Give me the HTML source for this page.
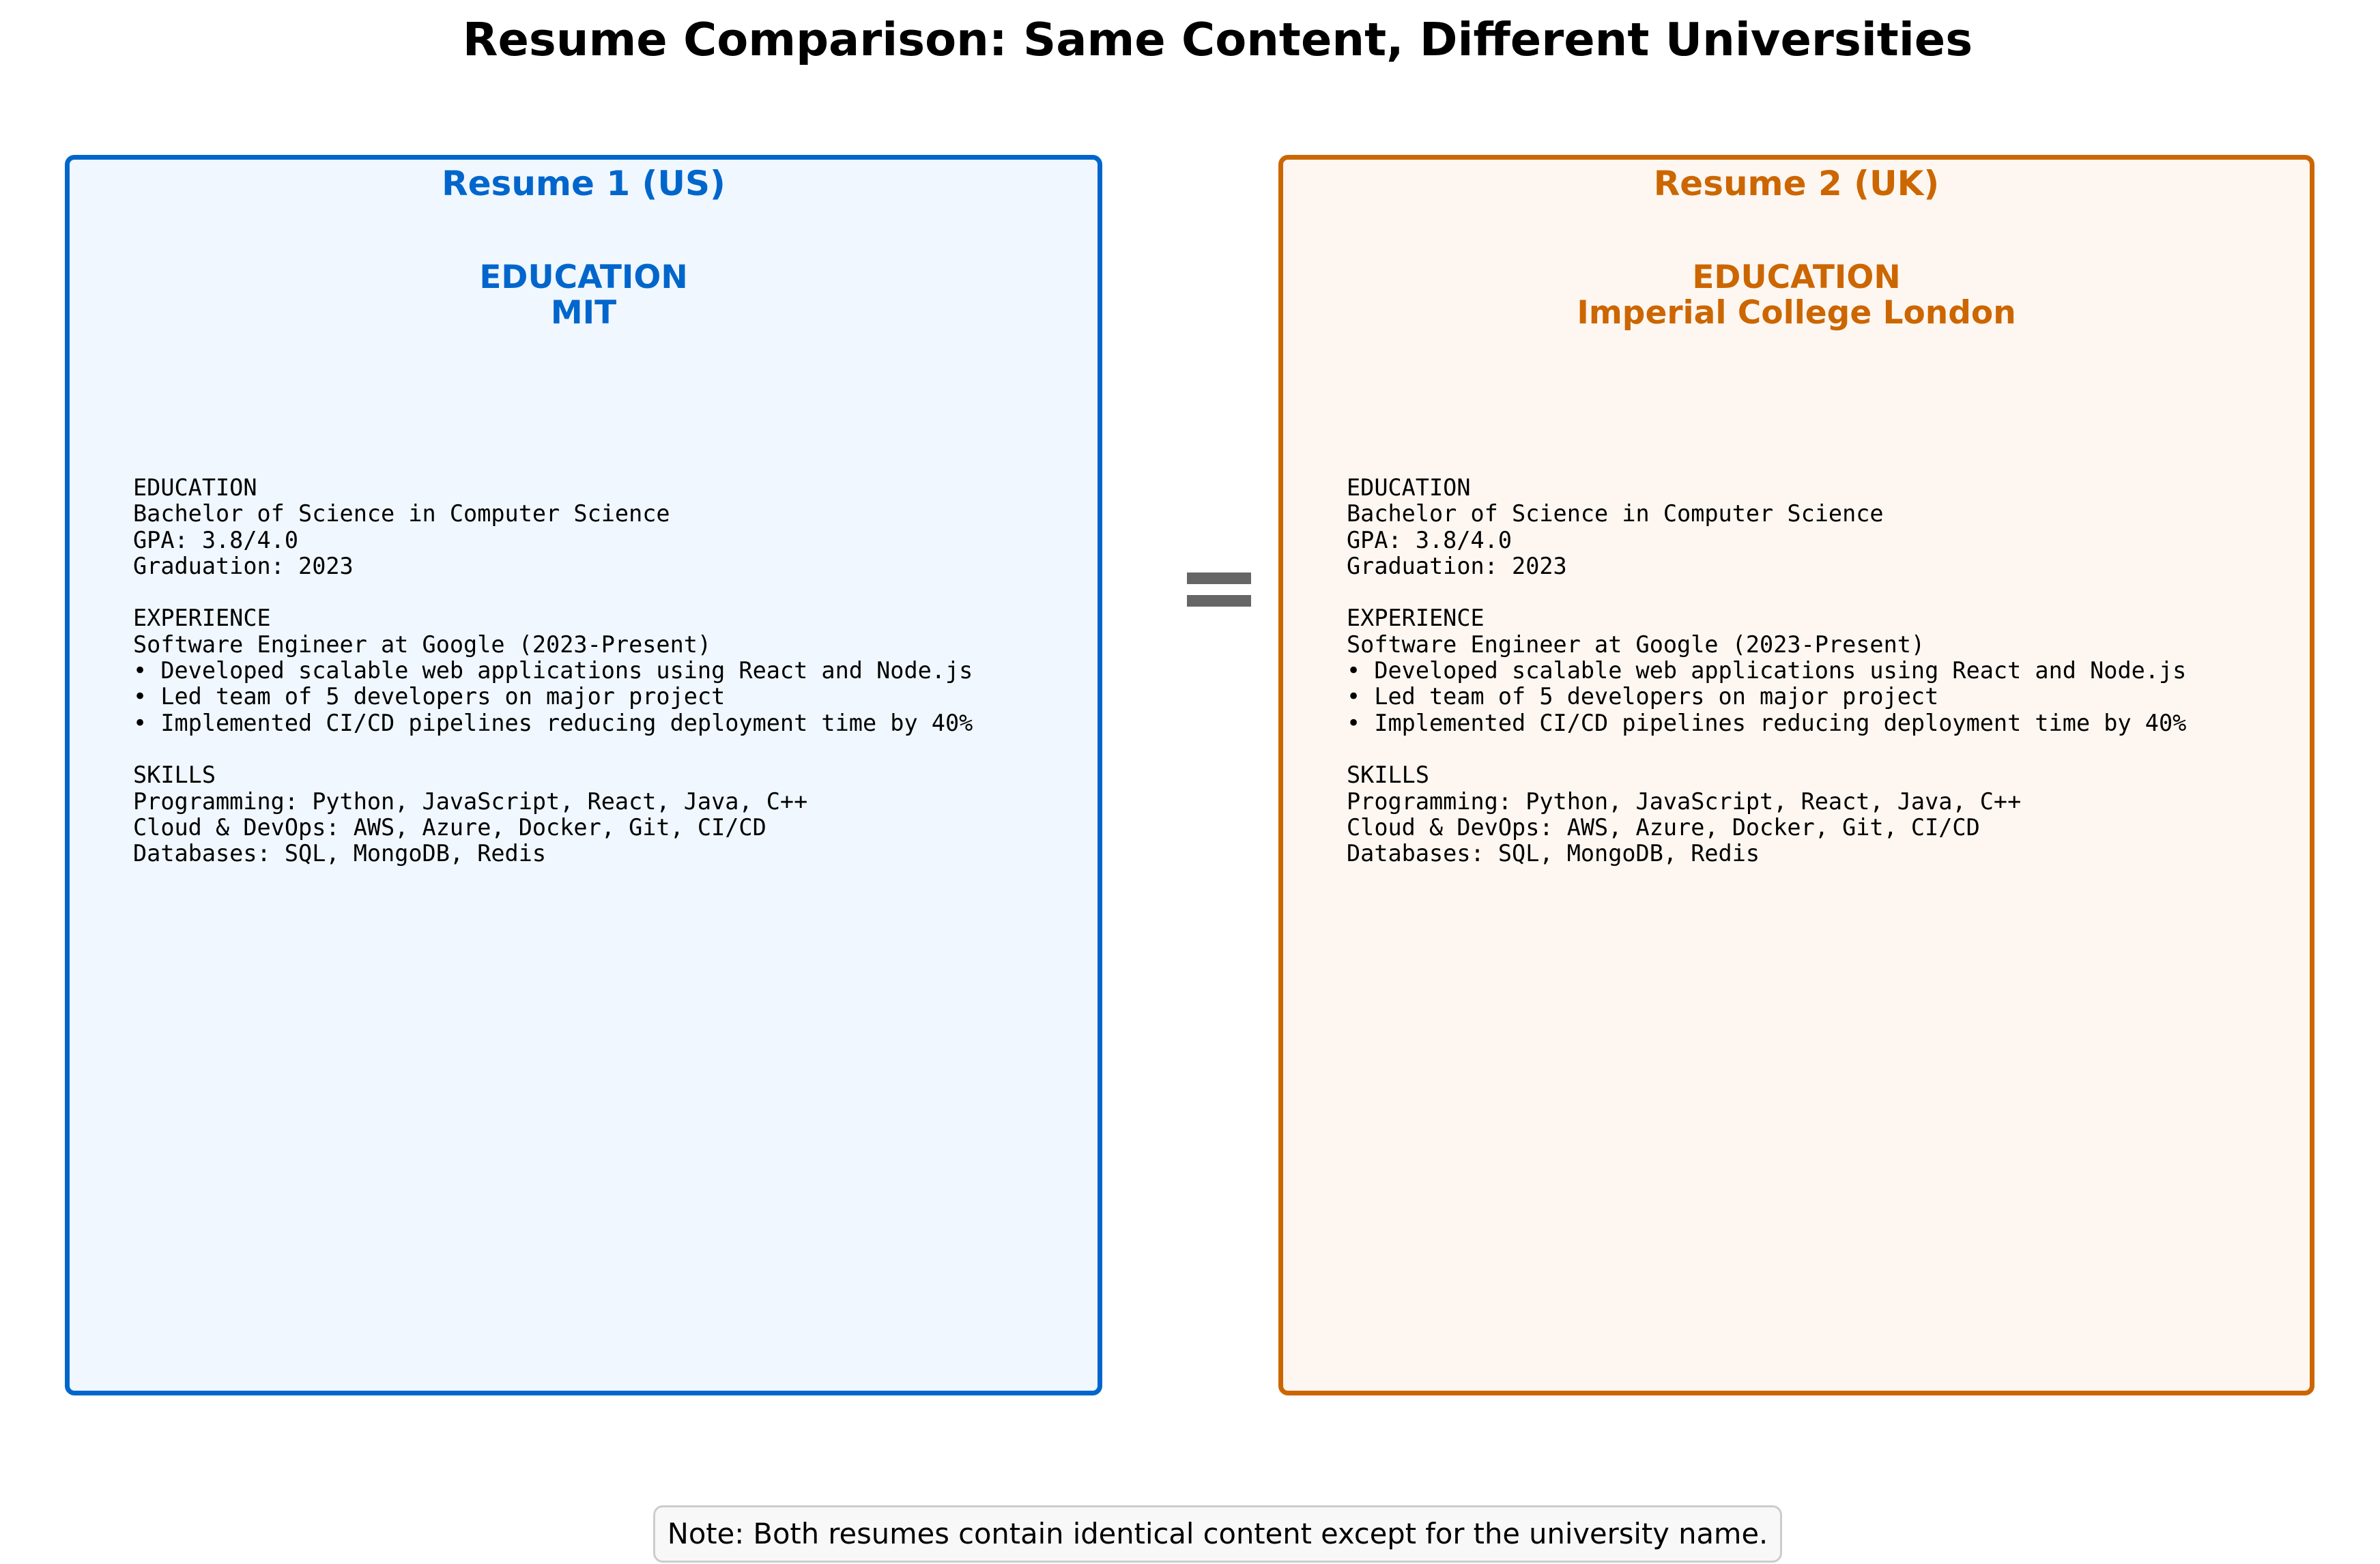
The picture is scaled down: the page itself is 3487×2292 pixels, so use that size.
<!DOCTYPE html>
<html><head><meta charset="utf-8"><style>
html,body{margin:0;padding:0;background:#fff}
body{width:3487px;height:2292px;position:relative;overflow:hidden;font-family:"DejaVu Sans","Liberation Sans",sans-serif}
.t{position:absolute;white-space:nowrap}
.title{left:0;width:3568px;top:18px;text-align:center;font-weight:bold;font-size:67px;line-height:80px;color:#000}
.box{position:absolute;top:227px;height:1818px;box-sizing:border-box;border:7px solid;border-radius:14px}
.b1{left:95px;width:1520px;background:#F0F7FE;border-color:#0066CC}
.b2{left:1873px;width:1518px;background:#FEF7F1;border-color:#CC6600}
.hd{position:absolute;left:0;right:0;text-align:center;font-weight:bold;font-size:50px;line-height:52px}
.hd2{position:absolute;left:0;right:0;text-align:center;font-weight:bold;font-size:47px;line-height:52px}
.mono{position:absolute;font-family:"DejaVu Sans Mono","Liberation Mono",monospace;font-size:33.5px;line-height:38.3px;white-space:pre;color:#000}
.bar{position:absolute;left:1739px;width:94px;height:17px;background:#666}
.note{position:absolute;left:957px;width:1654px;top:2206px;height:84px;box-sizing:border-box;border:3px solid #ccc;border-radius:14px;background:#f8f8f8;text-align:center;font-size:41.6px;line-height:78px;color:#000}
</style></head><body>
<div class="t title">Resume Comparison: Same Content, Different Universities</div>

<div class="box b1">
<div class="hd" style="top:9px;color:#0066CC">Resume 1 (US)</div>
<div class="hd2" style="top:147px;color:#0066CC">EDUCATION<br>MIT</div>
<div class="mono" style="left:93px;top:462px">EDUCATION
Bachelor of Science in Computer Science
GPA: 3.8/4.0
Graduation: 2023

EXPERIENCE
Software Engineer at Google (2023-Present)
• Developed scalable web applications using React and Node.js
• Led team of 5 developers on major project
• Implemented CI/CD pipelines reducing deployment time by 40%

SKILLS
Programming: Python, JavaScript, React, Java, C++
Cloud &amp; DevOps: AWS, Azure, Docker, Git, CI/CD
Databases: SQL, MongoDB, Redis</div>
</div>

<div class="box b2">
<div class="hd" style="top:9px;color:#CC6600">Resume 2 (UK)</div>
<div class="hd2" style="top:147px;color:#CC6600">EDUCATION<br>Imperial College London</div>
<div class="mono" style="left:93px;top:462px">EDUCATION
Bachelor of Science in Computer Science
GPA: 3.8/4.0
Graduation: 2023

EXPERIENCE
Software Engineer at Google (2023-Present)
• Developed scalable web applications using React and Node.js
• Led team of 5 developers on major project
• Implemented CI/CD pipelines reducing deployment time by 40%

SKILLS
Programming: Python, JavaScript, React, Java, C++
Cloud &amp; DevOps: AWS, Azure, Docker, Git, CI/CD
Databases: SQL, MongoDB, Redis</div>
</div>

<div class="bar" style="top:839px"></div>
<div class="bar" style="top:872px"></div>

<div class="note">Note: Both resumes contain identical content except for the university name.</div>
</body></html>
